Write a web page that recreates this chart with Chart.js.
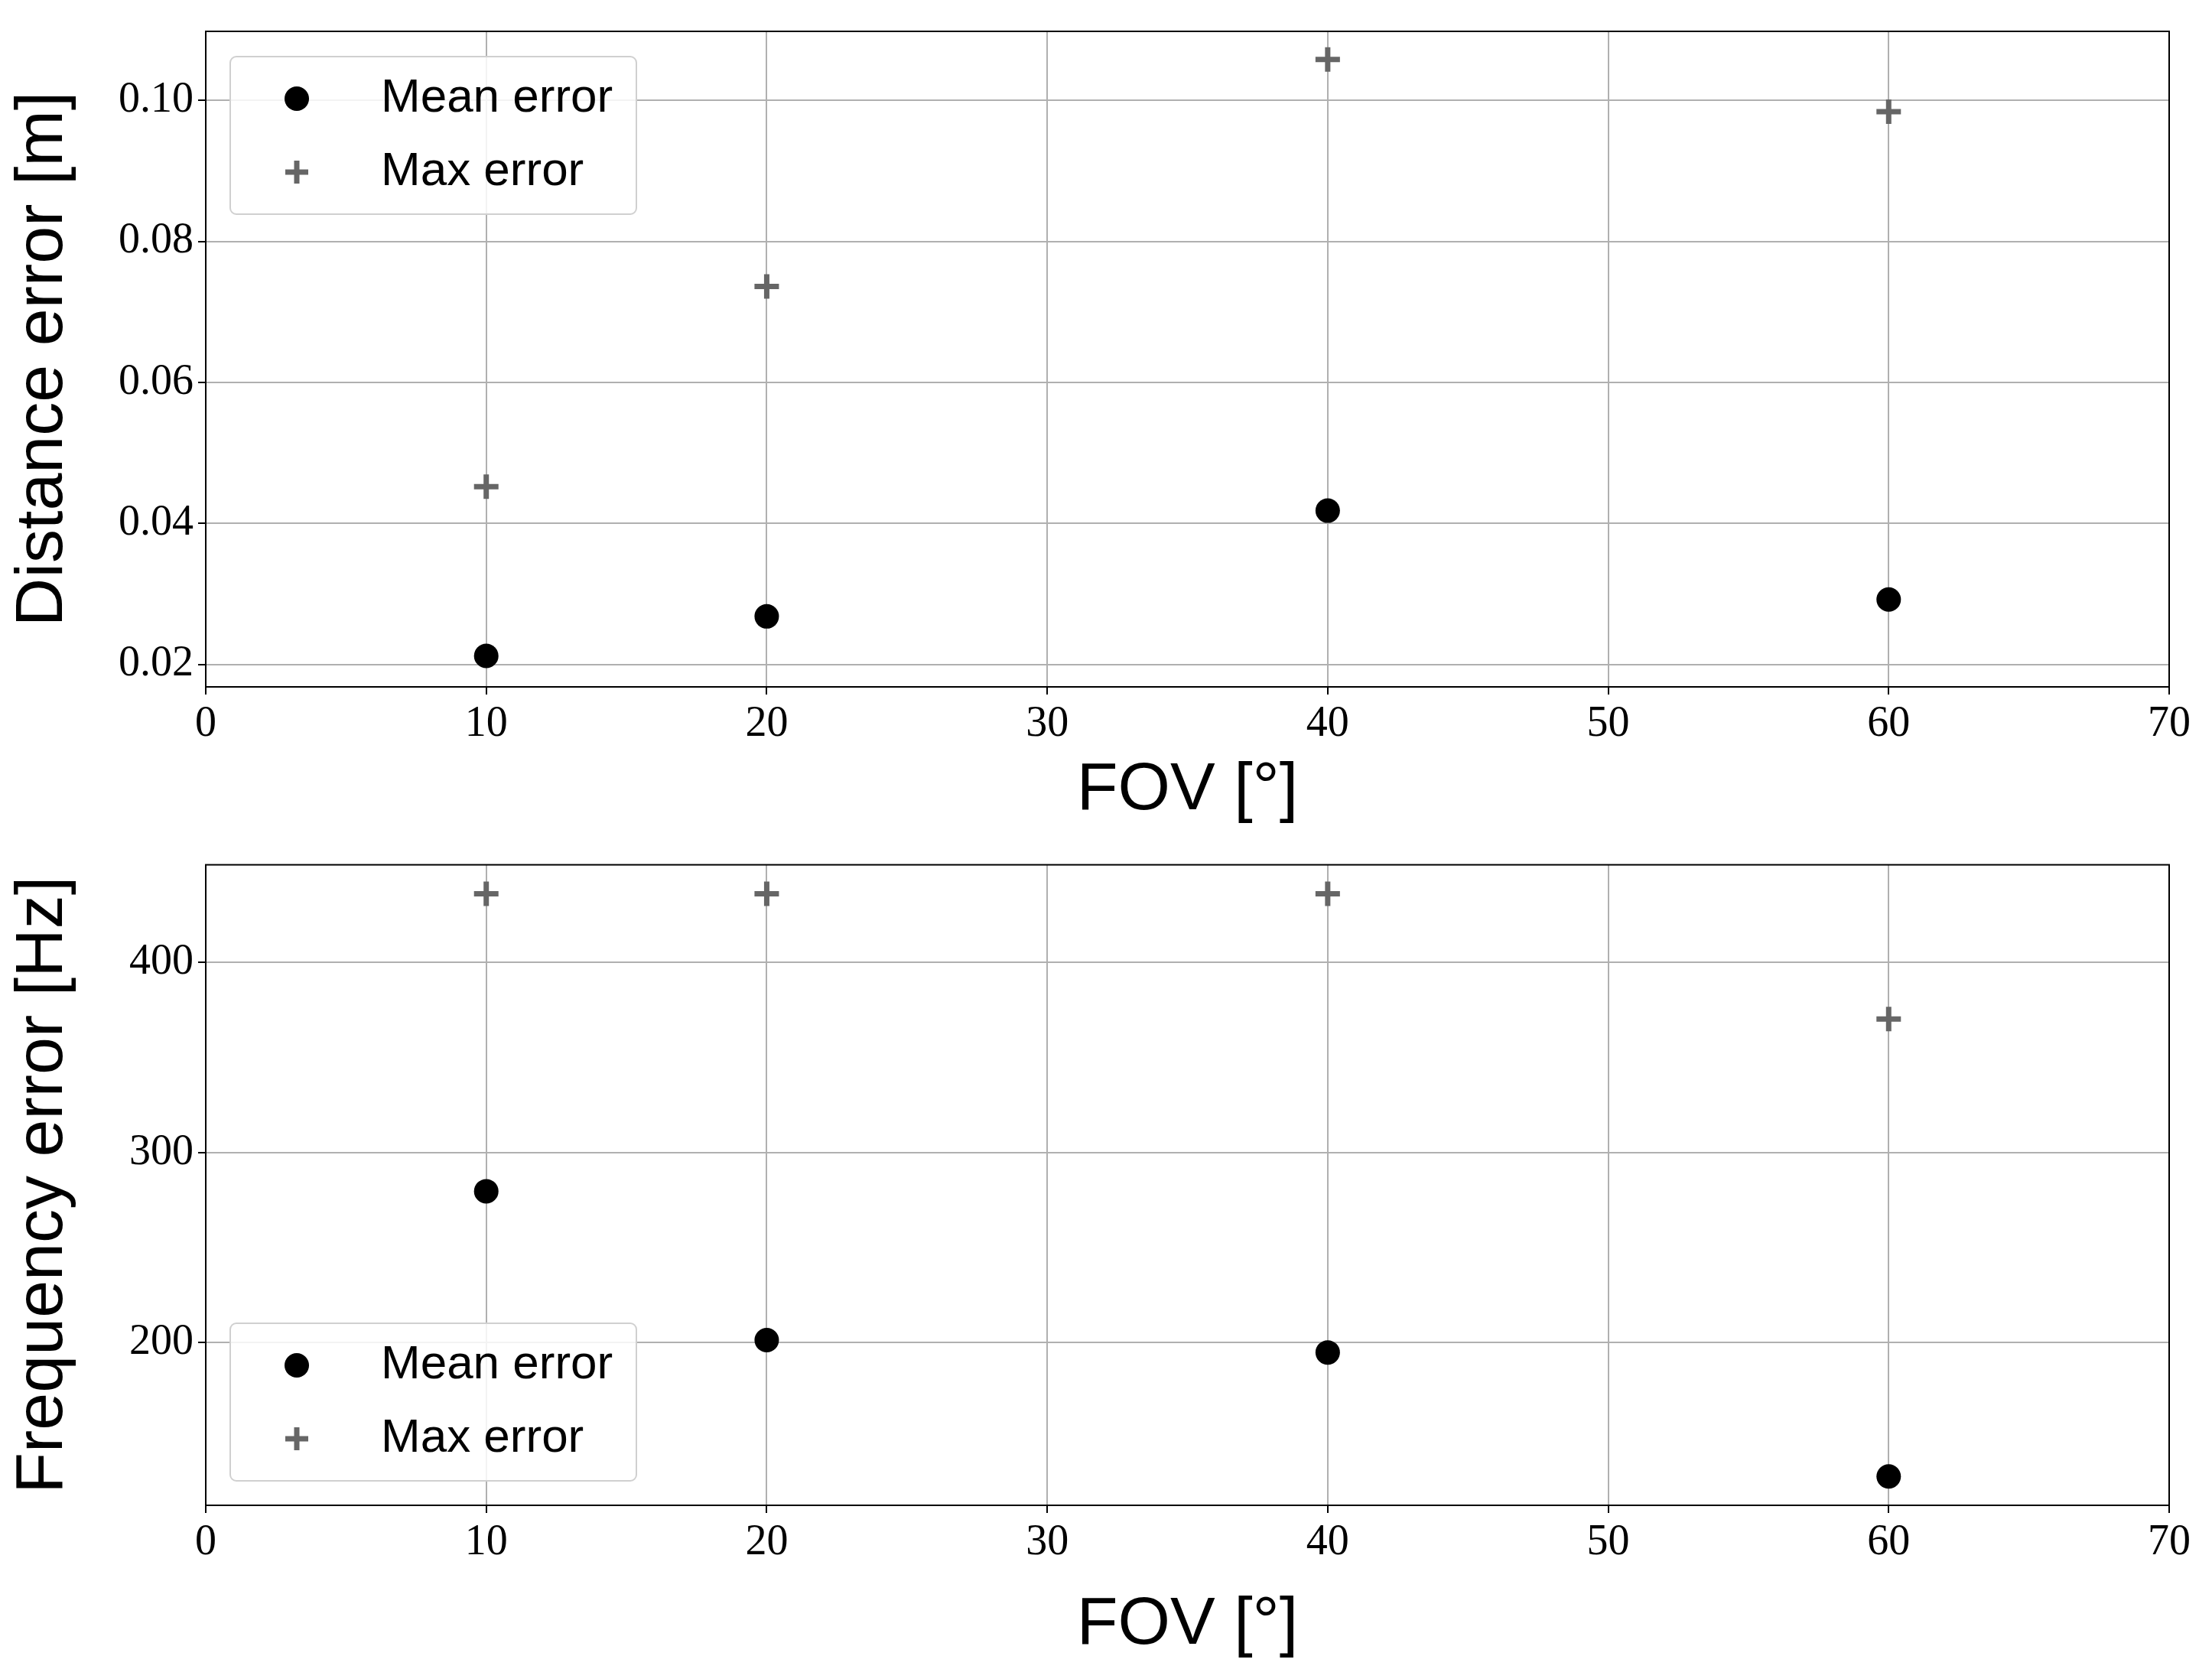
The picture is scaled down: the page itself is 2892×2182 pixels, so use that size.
<!DOCTYPE html>
<html>
<head>
<meta charset="UTF-8">
<style>
  body { margin: 0; background: #fff; }
  .box { position: absolute; left: 0; width: 2892px; height: 1091px; }
</style>
</head>
<body>
<div class="box" style="top:0"><canvas id="c1" width="2892" height="1091"></canvas></div>
<div class="box" style="top:1091px"><canvas id="c2" width="2892" height="1091"></canvas></div>
<script src="https://cdn.jsdelivr.net/npm/chart.js"></script>
<script>
const fov = [10, 20, 40, 60];
const distMean = [0.0212, 0.0268, 0.0418, 0.0292];
const distMax = [0.0452, 0.0736, 0.1058, 0.0984];
const freqMean = [279.7, 201.4, 194.9, 129.7];
const freqMax = [436.2, 436.2, 436.2, 370.3];
const xTicks = [0, 10, 20, 30, 40, 50, 60, 70];
const distTicks = [0.02, 0.04, 0.06, 0.08, 0.10];
const freqTicks = [200, 300, 400];

Chart.defaults.animation = false;
Chart.defaults.responsive = false;

// legend box drawn inside the plot, matplotlib style
const boxLegend = {
  id: 'boxLegend',
  afterDraw(chart, args, opts) {
    const ctx = chart.ctx;
    const x = opts.x, y = opts.y, w = 531, h = 206;
    ctx.save();
    ctx.fillStyle = 'rgba(255,255,255,0.85)';
    ctx.strokeStyle = '#d0d0d0';
    ctx.lineWidth = 2;
    ctx.beginPath();
    ctx.roundRect(x, y, w, h, 8);
    ctx.fill(); ctx.stroke();
    ctx.font = '62px "Liberation Sans"';
    ctx.textBaseline = 'middle';
    chart.data.datasets.forEach((ds, i) => {
      const cy = y + 55 + i * 96;
      const mx = x + 87;
      if (ds.pointStyle === 'circle') {
        ctx.fillStyle = ds.backgroundColor;
        ctx.beginPath(); ctx.arc(mx, cy, 16, 0, Math.PI * 2); ctx.fill();
      } else {
        ctx.strokeStyle = ds.borderColor; ctx.lineWidth = 7;
        ctx.beginPath();
        ctx.moveTo(mx - 15, cy); ctx.lineTo(mx + 15, cy);
        ctx.moveTo(mx, cy - 15); ctx.lineTo(mx, cy + 15);
        ctx.stroke();
      }
      ctx.fillStyle = '#000';
      ctx.fillText(ds.label, x + 197, cy);
    });
    ctx.restore();
  }
};

function makeChart(id, mean, max, yMin, yMax, yTicks, yTitle, fmt, padTop, xHeight, legendY) {
  new Chart(document.getElementById(id), {
    type: 'scatter',
    data: {
      datasets: [
        { label: 'Mean error', data: fov.map((v, i) => ({ x: v, y: mean[i] })),
          pointStyle: 'circle', pointRadius: 16, backgroundColor: '#000', borderColor: '#000', borderWidth: 0 },
        { label: 'Max error', data: fov.map((v, i) => ({ x: v, y: max[i] })),
          pointStyle: 'cross', pointRadius: 16, backgroundColor: '#666', borderColor: '#666', borderWidth: 7 }
      ]
    },
    options: {
      layout: { padding: { top: padTop, right: 56, left: 0, bottom: 0 } },
      plugins: { legend: { display: false }, tooltip: { enabled: false }, boxLegend: { x: 301, y: legendY } },
      scales: {
        x: {
          min: 0, max: 70,
          afterBuildTicks: a => { a.ticks = xTicks.map(v => ({ value: v })); },
          afterFit: a => { a.height = xHeight; },
          grid: { color: '#b0b0b0', lineWidth: 2, tickLength: 10, tickColor: '#000' },
          border: { color: '#000', width: 2 },
          ticks: { color: '#000', font: { family: 'Liberation Serif', size: 56 }, padding: 6, maxRotation: 0 },
          title: { display: true, text: 'FOV [°]', color: '#000', font: { family: 'Liberation Sans', size: 88 }, padding: { top: 0 } }
        },
        y: {
          min: yMin, max: yMax,
          afterBuildTicks: a => { a.ticks = yTicks.map(v => ({ value: v })); },
          afterFit: a => { a.width = 269; },
          grid: { color: '#b0b0b0', lineWidth: 2, tickLength: 10, tickColor: '#000' },
          border: { color: '#000', width: 2 },
          ticks: { color: '#000', font: { family: 'Liberation Serif', size: 56 }, padding: 6, callback: fmt },
          title: { display: true, text: yTitle, color: '#000', font: { family: 'Liberation Sans', size: 88 }, padding: { bottom: 0 } }
        }
      }
    },
    plugins: [boxLegend, {
      id: 'frame',
      afterDraw(chart) {
        const a = chart.chartArea, ctx = chart.ctx;
        ctx.save(); ctx.strokeStyle = '#000'; ctx.lineWidth = 2;
        ctx.strokeRect(a.left, a.top, a.right - a.left, a.bottom - a.top);
        ctx.restore();
      }
    }]
  });
}

makeChart('c1', distMean, distMax, 0.0168, 0.1098, distTicks, 'Distance error [m]', v => v.toFixed(2), 41, 193, 74);
makeChart('c2', freqMean, freqMax, 114.5, 451.4, freqTicks, 'Frequency error [Hz]', v => String(v), 19, 214, 639);
</script>
</body>
</html>
